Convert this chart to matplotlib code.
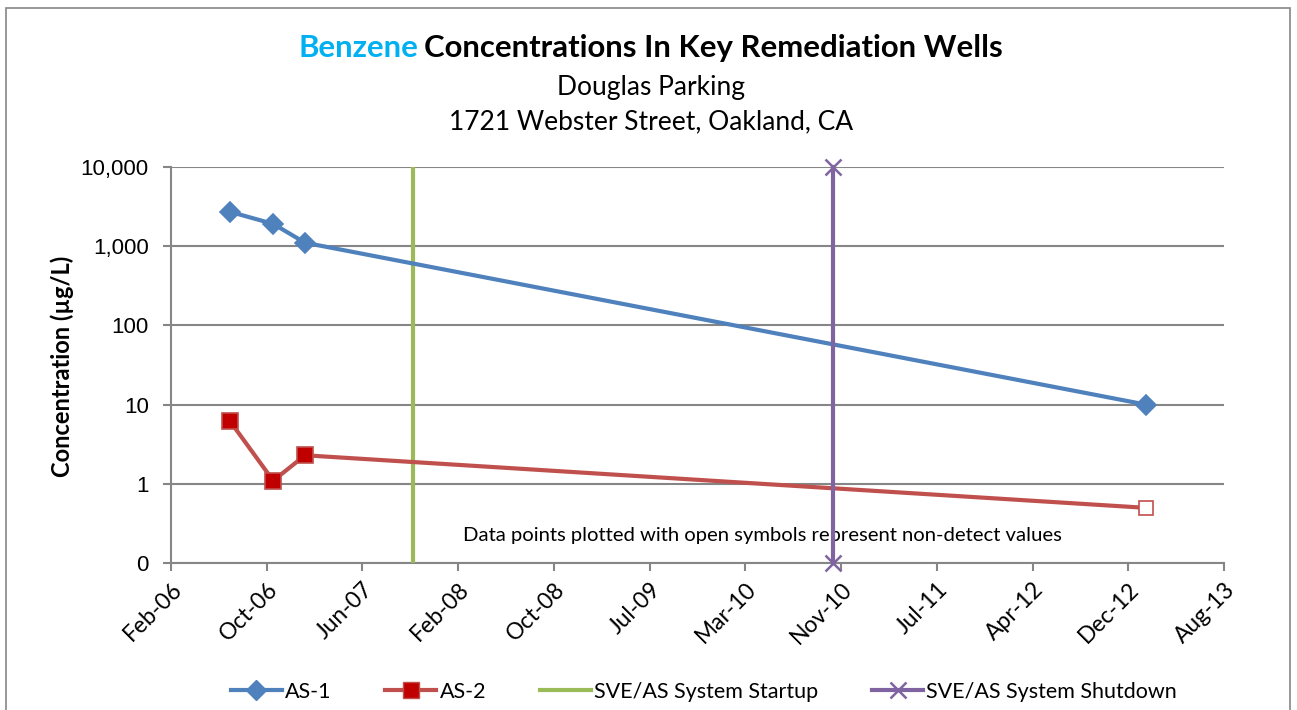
import datetime as dt
import numpy as np
import matplotlib
matplotlib.use("Agg")
import matplotlib.pyplot as plt
from matplotlib.patches import Rectangle

plt.rcParams['font.family'] = ['Lato', 'DejaVu Sans']

# data
as1_dates = [dt.date(2006, 7, 5), dt.date(2006, 10, 26), dt.date(2007, 1, 17), dt.date(2013, 1, 22)]
as1_vals = [2700, 1900, 1100, 10]
as1_detect = [True, True, True, True]

as2_dates = [dt.date(2006, 7, 5), dt.date(2006, 10, 26), dt.date(2007, 1, 17), dt.date(2013, 1, 22)]
as2_vals = [6.2, 1.1, 2.3, 0.5]
as2_detect = [True, True, True, False]

startup_date = dt.date(2007, 10, 27)
shutdown_date = dt.date(2010, 10, 28)
vline_vals = [0.1, 10000]

ytick_vals = [0.1, 1, 10, 100, 1000, 10000]
ytick_labels = ['0', '1', '10', '100', '1,000', '10,000']
xtick_labels = ['Feb-06', 'Oct-06', 'Jun-07', 'Feb-08', 'Oct-08', 'Jul-09',
                'Mar-10', 'Nov-10', 'Jul-11', 'Apr-12', 'Dec-12', 'Aug-13']
x_start = dt.date(2006, 2, 1)
x_step = 250  # days between major ticks

blue = '#4F81BD'
red = '#C0504D'
darkred = '#C00000'
green = '#9BBB59'
purple = '#8064A2'
grid = '#868686'

fig = plt.figure(figsize=(12.97, 7.10), dpi=100)
ax = fig.add_axes([171/1297, 1-563.3/710, (1224-171)/1297, (563.3-166.7)/710])

# chart area border
fig.patches.append(Rectangle((6/1297, -0.02), (1290-6)/1297, 1.02-8/710,
                             transform=fig.transFigure, fill=False,
                             edgecolor=grid, lw=1.2))

# AS-1
ax.plot(as1_dates, as1_vals, color=blue, lw=3, zorder=4)
for d, v, det in zip(as1_dates, as1_vals, as1_detect):
    ax.plot(d, v, 'D', ms=10, mfc=blue if det else 'white', mec=blue, mew=1.2, zorder=5)

# AS-2
ax.plot(as2_dates, as2_vals, color=red, lw=3, zorder=4)
for d, v, det in zip(as2_dates, as2_vals, as2_detect):
    ax.plot(d, v, 's', ms=12 if det else 10.5, mfc=darkred if det else 'white',
            mec=red, mew=1.2, zorder=5)

# system startup / shutdown
ax.plot([startup_date, startup_date], vline_vals, color=green, lw=3, zorder=3)
ax.plot([shutdown_date, shutdown_date], vline_vals, color=purple, lw=3,
        marker='x', ms=11, mew=1.8, zorder=6, clip_on=False)

ax.text((762-171)/(1224-171), (563.3-535)/(563.3-166.7),
        'Data points plotted with open symbols represent non-detect values',
        transform=ax.transAxes, ha='center', va='center', fontsize=14.6, zorder=2)

ax.set_yscale('log')
ax.set_ylim(0.1, 10000)
ax.set_yticks(ytick_vals)
ax.set_yticklabels(ytick_labels, fontfamily='Liberation Sans')
ax.yaxis.set_minor_locator(matplotlib.ticker.NullLocator())

xticks = [x_start + dt.timedelta(days=x_step*i) for i in range(len(xtick_labels))]
ax.set_xlim(xticks[0], xticks[-1])
ax.set_xticks(xticks)
ax.set_xticklabels(xtick_labels, rotation=45, ha='right', rotation_mode='anchor')

ax.grid(axis='y', color=grid, lw=1.5)
ax.set_axisbelow(True)
for s in ['top', 'right']:
    ax.spines[s].set_visible(False)
for s in ['left', 'bottom']:
    ax.spines[s].set_color(grid)
    ax.spines[s].set_linewidth(1.5)
ax.tick_params(axis='y', colors=grid, labelcolor='black', labelsize=16, length=6, width=1.5, pad=10)
ax.tick_params(axis='x', colors=grid, labelcolor='black', labelsize=16.5, length=6, width=1.5, pad=5)

fig.text(62/1297, 1-366/710, 'Concentration (\u00b5g/L)', rotation=90, ha='center',
         va='center', fontsize=17, fontweight='bold')

fig.text(418/1297, 1-48/710, 'Benzene', color='#00B0F0', fontsize=22.4,
         fontweight='bold', ha='right', va='center')
fig.text(424/1297, 1-48/710, 'Concentrations In Key Remediation Wells', color='black',
         fontsize=22.4, fontweight='bold', ha='left', va='center')
fig.text(651/1297, 1-88/710, 'Douglas Parking', fontsize=19, ha='center', va='center')
fig.text(651/1297, 1-122/710, '1721 Webster Street, Oakland, CA', fontsize=19,
         ha='center', va='center')

handles = [
    plt.Line2D([], [], color=blue, lw=3, marker='D', ms=10, mfc=blue, mec=blue),
    plt.Line2D([], [], color=red, lw=3, marker='s', ms=12, mfc=darkred, mec=red),
    plt.Line2D([], [], color=green, lw=3),
    plt.Line2D([], [], color=purple, lw=3, marker='x', ms=11, mew=1.8),
]
labels = ['AS-1', 'AS-2', 'SVE/AS System Startup', 'SVE/AS System Shutdown']
fig.legend(handles, labels, loc='center', bbox_to_anchor=(704/1297, 1-692/710), ncol=4,
           frameon=False, fontsize=15.5, handlelength=2.37, handletextpad=0.15,
           columnspacing=2.5)

fig.savefig('out.png', dpi=100)
